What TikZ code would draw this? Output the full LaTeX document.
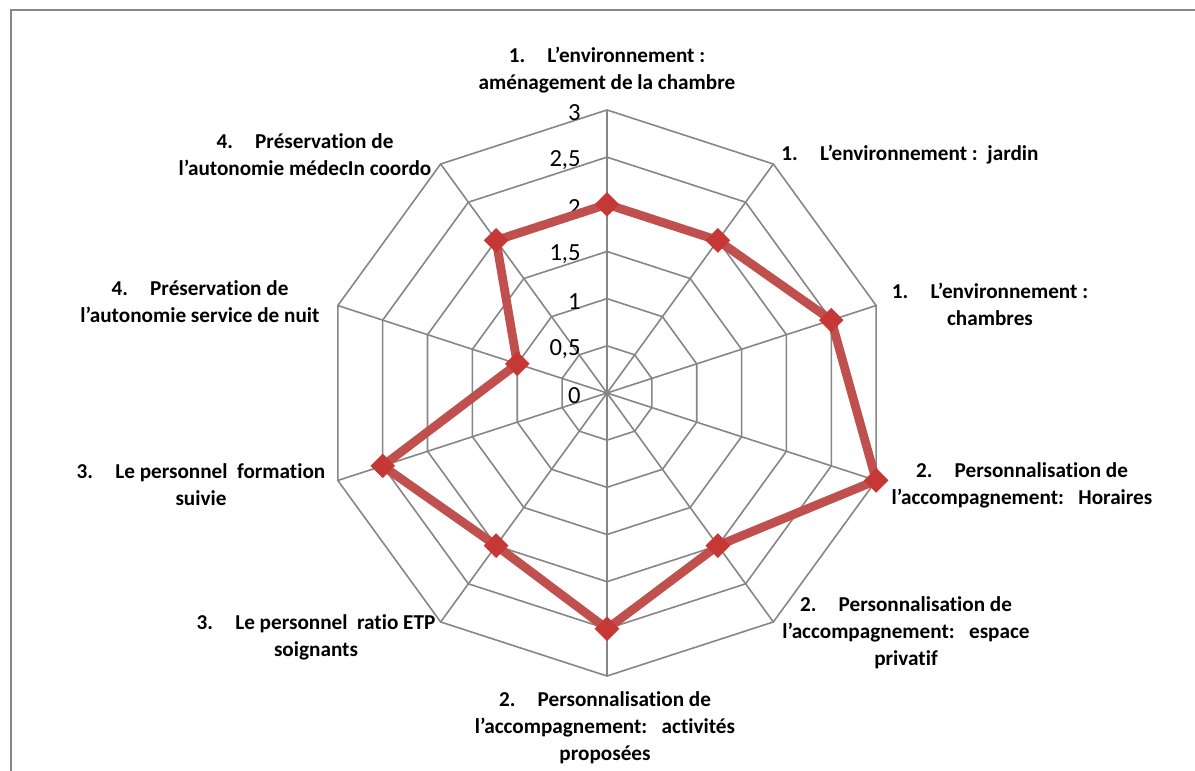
\documentclass[tikz,border=0pt]{standalone}
\usepackage{fontspec}
\setmainfont{Carlito}[Ligatures=NoCommon, RawFeature={-clig}]
\usetikzlibrary{shapes.geometric}
\definecolor{gridgray}{RGB}{134,134,134}
\definecolor{datared}{RGB}{192,80,77}
\definecolor{markred}{RGB}{198,56,53}
\newcommand{\itemno}[1]{#1.\hspace{1.05em}}
\tikzset{
	x=0.5pt, y=0.5pt, % one unit is one pixel of the chart
	webline/.style={draw=gridgray, line width=0.8pt}, % rings and spokes of the web
	dataline/.style={draw=datared, line width=4.4pt, line join=round}, % the scores
	datamark/.style={diamond, fill=markred, inner sep=0pt, minimum width=12.5pt, minimum height=12.5pt}, % the markers
	axislabel/.style={align=center, font=\fontsize{10.6}{13.5}\selectfont\bfseries}, % names of the axes
	ringlabel/.style={anchor=east, inner sep=0pt, font=\fontsize{12.3}{13}\selectfont}, % values of the rings
}

\begin{document}
\begin{tikzpicture}
	\useasboundingbox (-607,-378) rectangle (588,393);
	\draw[gridgray, line width=1pt] (-596,-378) -- (-596,383) -- (588,383);
	
	% web
	\foreach \r in {1,...,6}
		\draw[webline] (90:\r*47.17) \foreach \a in {1,...,9} { -- (90-36*\a:\r*47.17) } -- cycle;
	\foreach \a in {0,...,9}
		\draw[webline] (0,0) -- (90-36*\a:283);
	\foreach \t [count=\k from 0] in {0,{0,5},1,{1,5},2,{2,5},3}
		\node[ringlabel] (v\k) at (-26,\k*47.17-3) {\t};
	
	% scores
	\foreach \v [count=\i] in {2,2,2.5,3,2,2.5,2,2.5,1,2}
		\coordinate (p\i) at (126-36*\i:\v*94.33);
	\draw[dataline] (p1) -- (p2) -- (p3) -- (p4) -- (p5) -- (p6) -- (p7) -- (p8) -- (p9) -- (p10) -- cycle;
	\foreach \i in {1,...,10}
		\node[datamark] (m\i) at (p\i) {};
	
	% axes
	\node[axislabel] (c1) at (0,323) {\itemno{1}L’environnement :\\aménagement de la chambre};
	\node[axislabel] (c2) at (303,238) {\itemno{1}L’environnement :\ \ jardin};
	\node[axislabel] (c3) at (383,89) {\itemno{1}L’environnement :\\chambres};
	\node[axislabel] (c4) at (415,-92) {\itemno{2}Personnalisation de\\l’accompagnement:\ \ \ Horaires};
	\node[axislabel] (c5) at (299,-240) {\itemno{2}Personnalisation de\\l’accompagnement:\ \ \ espace\\privatif};
	\node[axislabel] (c6) at (-2,-335) {\itemno{2}Personnalisation de\\l’accompagnement:\ \ \ activités\\proposées};
	\node[axislabel] (c7) at (-291,-244) {\itemno{3}Le personnel\ \ ratio ETP\\soignants};
	\node[axislabel] (c8) at (-406,-92) {\itemno{3}Le personnel\ \ formation\\suivie};
	\node[axislabel] (c9) at (-407,91) {\itemno{4}Préservation de\\l’autonomie service de nuit};
	\node[axislabel] (c10) at (-302,238) {\itemno{4}Préservation de\\l’autonomie médecIn coordo};
\end{tikzpicture}
\end{document}
